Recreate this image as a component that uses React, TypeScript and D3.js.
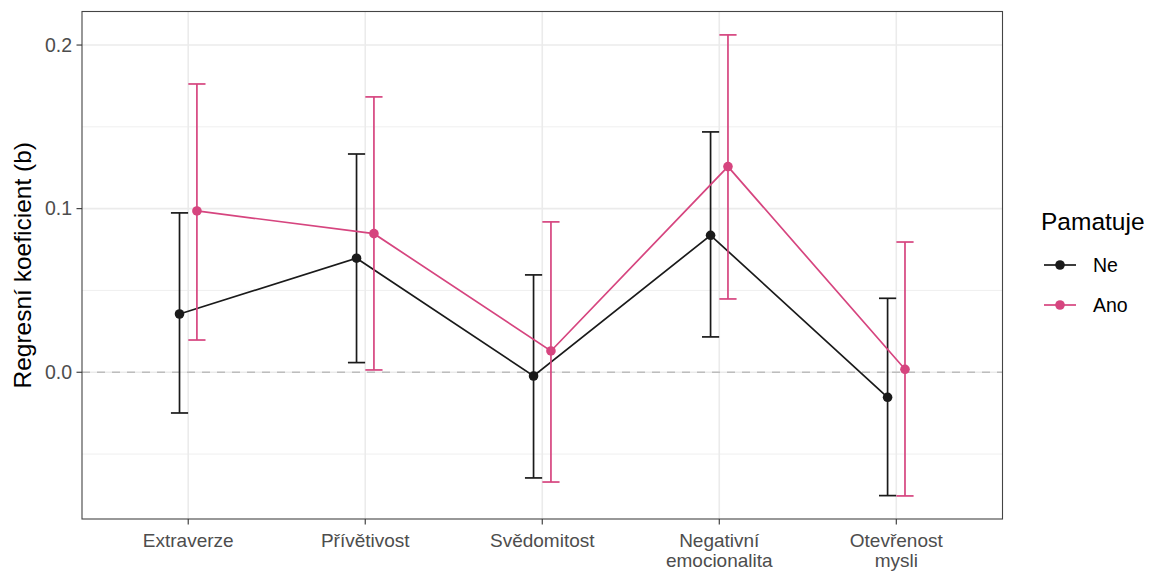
import React from 'react';
import * as d3 from 'd3';

// traits on the x axis (two-line labels split by \n)
const categories = ['Extraverze', 'Přívětivost', 'Svědomitost', 'Negativní\nemocionalita', 'Otevřenost\nmysli'];
const groups = ['Ne', 'Ano'];

const neEst = [0.0356, 0.0697, -0.0023, 0.0837, -0.0153];
const neLow = [-0.0249, 0.0059, -0.0646, 0.0216, -0.0754];
const neHigh = [0.0974, 0.1334, 0.0595, 0.1469, 0.0452];

const anoEst = [0.0986, 0.0847, 0.0130, 0.1257, 0.0018];
const anoLow = [0.0197, 0.0014, -0.0671, 0.0448, -0.0756];
const anoHigh = [0.1762, 0.1683, 0.0919, 0.2062, 0.0796];

const yTicks = [0, 0.1, 0.2];
const yMinor = [-0.05, 0.05, 0.15];

const colors = { Ne: '#1a1a1a', Ano: '#d6457f' };

const W = 1159;
const H = 572;
const panel = { left: 82, right: 1002.5, top: 11.5, bottom: 519 };
const font = '"Liberation Sans", Arial, sans-serif';

const series = [
  { key: 'Ne', est: neEst, lo: neLow, hi: neHigh },
  { key: 'Ano', est: anoEst, lo: anoLow, hi: anoHigh },
];

export default function App() {
  const x = d3.scalePoint<string>()
    .domain(categories)
    .range([panel.left, panel.right])
    .padding(0.6);
  const dodge = d3.scaleBand<string>()
    .domain(groups)
    .range([-17.4, 17.4])
    .padding(0);
  const y = d3.scaleLinear()
    .domain([-0.0897, 0.2205])
    .range([panel.bottom, panel.top]);

  const line = d3.line<[number, number]>()
    .x((d) => d[0])
    .y((d) => d[1]);

  const capHalf = 8.6;

  return (
    <div style={{ position: 'fixed', left: 0, top: 0 }}>
      <svg width={W} height={H} style={{ display: 'block', fontFamily: font }}>
        <rect x={0} y={0} width={W} height={H} fill="#fff" />

        {/* grid */}
        {yMinor.map((t) => (
          <line key={'mn' + t} x1={panel.left} x2={panel.right} y1={y(t)} y2={y(t)}
            stroke="#ebebeb" strokeWidth={0.8} />
        ))}
        {yTicks.map((t) => (
          <line key={'mj' + t} x1={panel.left} x2={panel.right} y1={y(t)} y2={y(t)}
            stroke="#ebebeb" strokeWidth={1.6} />
        ))}
        {categories.map((c) => (
          <line key={'vx' + c} x1={x(c)} x2={x(c)} y1={panel.top} y2={panel.bottom}
            stroke="#ebebeb" strokeWidth={1.6} />
        ))}

        {/* zero reference */}
        <line x1={panel.left} x2={panel.right} y1={y(0)} y2={y(0)}
          stroke="#bdbdbd" strokeWidth={1.5} strokeDasharray="8,7" />

        {/* series */}
        {series.map((s) => {
          const off = dodge(s.key)! + dodge.bandwidth() / 2;
          const col = (colors as any)[s.key];
          const pts: [number, number][] = categories.map((c, i) => [x(c)! + off, y(s.est[i])]);
          return (
            <g key={s.key}>
              {categories.map((c, i) => {
                const cx = x(c)! + off;
                return (
                  <g key={c} stroke={col} strokeWidth={1.7} fill="none">
                    <line x1={cx} x2={cx} y1={y(s.lo[i])} y2={y(s.hi[i])} />
                    <line x1={cx - capHalf} x2={cx + capHalf} y1={y(s.lo[i])} y2={y(s.lo[i])} />
                    <line x1={cx - capHalf} x2={cx + capHalf} y1={y(s.hi[i])} y2={y(s.hi[i])} />
                  </g>
                );
              })}
              <path d={line(pts)!} fill="none" stroke={col} strokeWidth={1.7} />
              {pts.map((p, i) => (
                <circle key={i} cx={p[0]} cy={p[1]} r={4.8} fill={col} />
              ))}
            </g>
          );
        })}

        {/* panel border */}
        <rect x={panel.left} y={panel.top} width={panel.right - panel.left} height={panel.bottom - panel.top}
          fill="none" stroke="#444" strokeWidth={1.1} />

        {/* y axis */}
        {yTicks.map((t) => (
          <g key={'yt' + t}>
            <line x1={panel.left - 5.5} x2={panel.left} y1={y(t)} y2={y(t)} stroke="#333" strokeWidth={1.1} />
            <text x={panel.left - 10} y={y(t)} dy="0.35em" textAnchor="end" fontSize={19.5} fill="#4d4d4d">
              {d3.format('.1f')(t)}
            </text>
          </g>
        ))}
        <text transform={`translate(31,${(panel.top + panel.bottom) / 2}) rotate(-90)`} textAnchor="middle"
          fontSize={24.5} fill="#000">
          Regresní koeficient (b)
        </text>

        {/* x axis */}
        {categories.map((c) => (
          <g key={'xt' + c}>
            <line x1={x(c)} x2={x(c)} y1={panel.bottom} y2={panel.bottom + 5.5} stroke="#333" strokeWidth={1.1} />
            {c.split('\n').map((ln, j) => (
              <text key={j} x={x(c)} y={546.5 + j * 20} textAnchor="middle" fontSize={19} fill="#4d4d4d">
                {ln}
              </text>
            ))}
          </g>
        ))}

        {/* legend */}
        <text x={1041} y={230} fontSize={24.5} fill="#000">Pamatuje</text>
        {groups.map((g, i) => {
          const ly = 265 + i * 40;
          const col = (colors as any)[g];
          return (
            <g key={'lg' + g}>
              <line x1={1044} x2={1076} y1={ly} y2={ly} stroke={col} strokeWidth={1.7} />
              <circle cx={1060} cy={ly} r={4.8} fill={col} />
              <text x={1093} y={ly} dy="0.35em" fontSize={19.5} fill="#000">{g}</text>
            </g>
          );
        })}
      </svg>
    </div>
  );
}
